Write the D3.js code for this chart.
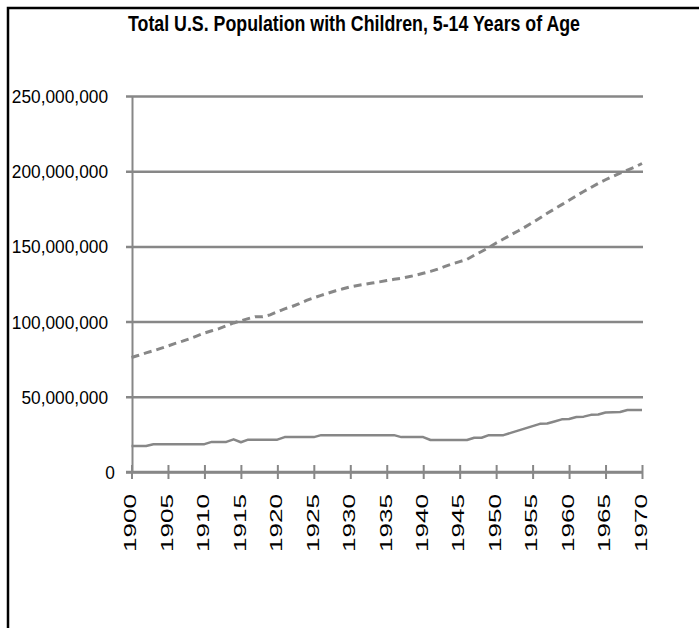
<!DOCTYPE html>
<html>
<head>
<meta charset="utf-8">
<script src="https://cdn.jsdelivr.net/npm/d3@7/dist/d3.min.js"></script>
<style>
  html, body { margin: 0; padding: 0; background: #fff; }
  svg { display: block; }
</style>
</head>
<body>
<svg id="chart" width="699" height="628"></svg>
<script>
const title = "Total U.S. Population with Children, 5-14 Years of Age";

const years = [1900,1901,1902,1903,1904,1905,1906,1907,1908,1909,
               1910,1911,1912,1913,1914,1915,1916,1917,1918,1919,
               1920,1921,1922,1923,1924,1925,1926,1927,1928,1929,
               1930,1931,1932,1933,1934,1935,1936,1937,1938,1939,
               1940,1941,1942,1943,1944,1945,1946,1947,1948,1949,
               1950,1951,1952,1953,1954,1955,1956,1957,1958,1959,
               1960,1961,1962,1963,1964,1965,1966,1967,1968,1969,1970];

// Total population (millions) - dashed line
const totalPop = [76.1,77.6,79.2,80.6,82.2,83.8,85.5,87.0,88.7,90.5,
                  92.4,93.9,95.3,97.2,99.1,100.5,102.0,103.3,103.2,104.5,
                  106.5,108.5,110.0,111.9,114.1,115.8,117.4,119.0,120.5,121.8,
                  123.1,124.0,124.8,125.6,126.4,127.3,128.1,128.8,129.8,130.9,
                  132.1,133.4,134.9,136.7,138.4,139.9,141.4,144.1,146.6,149.2,
                  152.3,154.9,157.6,160.2,163.0,165.9,168.9,172.0,174.9,177.8,
                  180.7,183.7,186.5,189.2,191.9,194.3,196.6,198.7,200.7,202.7,205.1];

// Children 5-14 years (millions) - solid line
const children = [17.3,17.3,17.3,18.5,18.5,18.5,18.5,18.5,18.5,18.5,
                  18.5,20.0,20.0,20.0,21.7,19.8,21.5,21.5,21.5,21.5,
                  21.5,23.2,23.2,23.2,23.2,23.2,24.5,24.5,24.5,24.5,
                  24.5,24.5,24.5,24.5,24.5,24.5,24.5,23.2,23.2,23.2,
                  23.2,21.3,21.3,21.3,21.3,21.3,21.3,22.8,22.8,24.5,
                  24.5,24.5,26.0,27.5,29.0,30.5,32.0,32.2,33.6,35.0,
                  35.2,36.6,36.8,38.0,38.2,39.6,39.8,39.9,41.2,41.3,41.3];

const xTickLabels = ["1900","1905","1910","1915","1920","1925","1930","1935",
                     "1940","1945","1950","1955","1960","1965","1970"];
const yTicks = [0, 50000000, 100000000, 150000000, 200000000, 250000000];

const svg = d3.select("#chart");
const grey = "#878787";
const font = "Liberation Sans, Arial, sans-serif";

svg.append("rect").attr("width", 699).attr("height", 628).attr("fill", "#fff");

// outer frame (cropped on right/bottom)
svg.append("rect")
  .attr("x", 8).attr("y", 8)
  .attr("width", 1000).attr("height", 1000)
  .attr("fill", "none").attr("stroke", "#000").attr("stroke-width", 2.5);

const axisX = 132;
const x = d3.scaleLinear().domain([1900, 1970]).range([131.5, 642]);
const y = d3.scaleLinear().domain([0, 250000000]).range([472, 96]);

// title
svg.append("text")
  .attr("x", 128).attr("y", 30.5)
  .attr("font-family", font)
  .attr("font-weight", "bold")
  .attr("font-size", 22)
  .attr("textLength", 452)
  .attr("lengthAdjust", "spacingAndGlyphs")
  .attr("fill", "#000")
  .text(title);

// Y axis with gridlines
const yAxis = d3.axisLeft(y)
  .tickValues(yTicks)
  .tickFormat(d3.format(","))
  .tickSizeOuter(0);

const gy = svg.append("g")
  .attr("transform", `translate(${axisX},0)`)
  .call(yAxis);

gy.select(".domain").attr("stroke", grey).attr("stroke-width", 2);
gy.selectAll(".tick line")
  .attr("x1", -6).attr("x2", 643 - axisX)
  .attr("stroke", grey).attr("stroke-width", 2.5);
gy.selectAll(".tick text")
  .attr("x", 0)
  .attr("transform", d => `translate(${d === 0 ? -17 : -24},0) scale(0.93,1)`)
  .attr("dy", "0.35em")
  .attr("font-family", font)
  .attr("font-size", 18.6)
  .attr("fill", "#000");

// X axis
const xAxis = d3.axisBottom(x)
  .tickValues(xTickLabels.map(Number))
  .tickFormat(d => String(d))
  .tickSizeOuter(0);

const gx = svg.append("g")
  .attr("transform", `translate(0,${y(0)})`)
  .call(xAxis);

gx.select(".domain").attr("stroke", grey).attr("stroke-width", 2.5)
  .attr("d", `M126,0H643`);
gx.selectAll(".tick line")
  .attr("y1", -7).attr("y2", 7)
  .attr("stroke", grey).attr("stroke-width", 2);
gx.selectAll(".tick text")
  .attr("transform", "rotate(-90)")
  .attr("x", -22).attr("y", -1.5)
  .attr("dy", "0.35em")
  .attr("text-anchor", "end")
  .attr("font-family", font)
  .attr("font-size", 16.5)
  .attr("textLength", 58)
  .attr("lengthAdjust", "spacingAndGlyphs")
  .attr("fill", "#000");

// lines
const line = d3.line()
  .x((d, i) => x(years[i]))
  .y(d => y(d * 1e6));

svg.append("path")
  .datum(totalPop)
  .attr("d", line)
  .attr("fill", "none")
  .attr("stroke", grey)
  .attr("stroke-width", 3)
  .attr("stroke-dasharray", "8,5");

svg.append("path")
  .datum(children)
  .attr("d", line)
  .attr("fill", "none")
  .attr("stroke", grey)
  .attr("stroke-width", 2.5)
  .attr("stroke-linejoin", "round");
</script>
</body>
</html>
